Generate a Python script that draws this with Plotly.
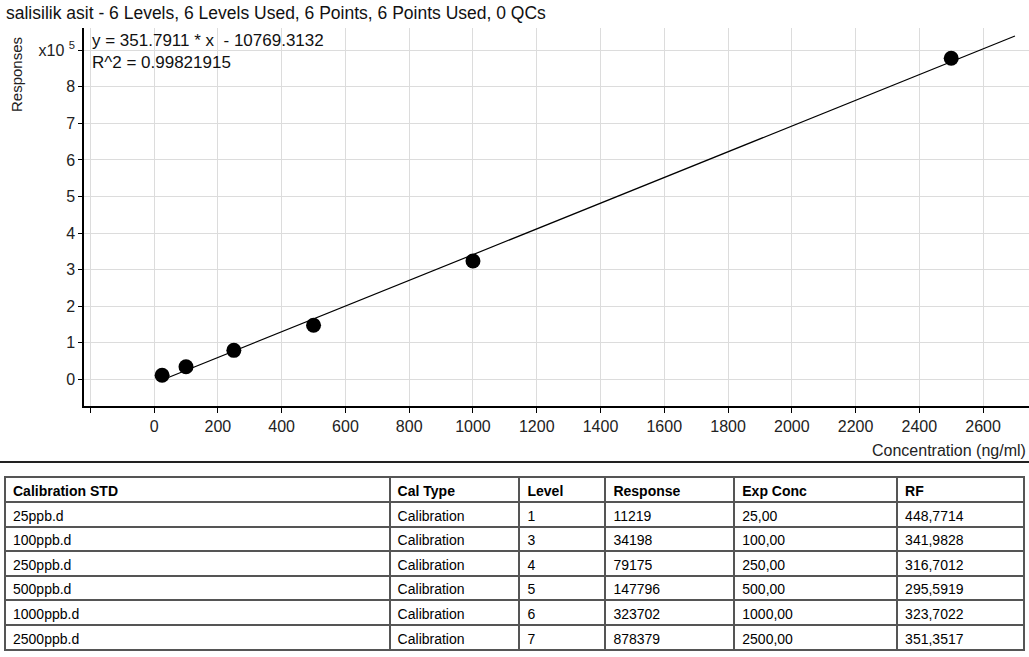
import plotly.graph_objects as go

# ---- data ----
conc = [25, 100, 250, 500, 1000, 2500]
response = [11219, 34198, 79175, 147796, 323702, 878379]
slope = 351.7911
intercept = -10769.3132
r2 = 0.99821915
fit_x = [25, 2700]

x_ticks = [0, 200, 400, 600, 800, 1000, 1200, 1400, 1600, 1800, 2000, 2200, 2400, 2600]
x_ticklabels = [str(v) for v in x_ticks]
x_minor_ticks = [-200]
y_ticks = [0, 1, 2, 3, 4, 5, 6, 7, 8, 9]
y_ticklabels = [str(v) for v in y_ticks[:-1]] + ["x10 <sup>5</sup>"]

tbl_cols = ["Calibration STD", "Cal Type", "Level", "Response", "Exp Conc", "RF"]
tbl_std = ["25ppb.d", "100ppb.d", "250ppb.d", "500ppb.d", "1000ppb.d", "2500ppb.d"]
tbl_type = ["Calibration"] * 6
tbl_level = ["1", "3", "4", "5", "6", "7"]
tbl_resp = ["11219", "34198", "79175", "147796", "323702", "878379"]
tbl_exp = ["25,00", "100,00", "250,00", "500,00", "1000,00", "2500,00"]
tbl_rf = ["448,7714", "341,9828", "316,7012", "295,5919", "323,7022", "351,3517"]

title_text = "salisilik asit - 6 Levels, 6 Levels Used, 6 Points, 6 Points Used, 0 QCs"

W, H = 1029, 657
FONT = "Liberation Sans"

fit_y = [(slope * v + intercept) / 1e5 for v in fit_x]
resp_scaled = [r / 1e5 for r in response]

fig = go.Figure()
fig.add_trace(go.Scatter(x=fit_x, y=fit_y, mode="lines",
                         line=dict(color="black", width=1.2), showlegend=False,
                         hoverinfo="skip"))
fig.add_trace(go.Scatter(x=conc, y=resp_scaled, mode="markers",
                         marker=dict(color="black", size=15), showlegend=False))

widths = [385, 130, 86, 129, 163, 127]
fig.add_trace(go.Table(
    domain=dict(x=[5 / W, 1025 / W], y=[1 - 656 / H, 1 - 477 / H]),
    columnwidth=widths,
    header=dict(values=tbl_cols, align="left",
                fill_color="white", line=dict(color="#555", width=2),
                font=dict(family=FONT, size=14, color="black", weight="bold"), height=25),
    cells=dict(values=[tbl_std, tbl_type, tbl_level, tbl_resp, tbl_exp, tbl_rf],
               align="left", fill_color="white", line=dict(color="#555", width=2),
               font=dict(family=FONT, size=14, color="black"), height=24.6),
))

fig.update_layout(
    width=W, height=H, autosize=False,
    margin=dict(l=0, r=0, t=0, b=0),
    paper_bgcolor="white", plot_bgcolor="white",
    font=dict(family=FONT, size=16, color="#222"),
    xaxis=dict(domain=[84 / W, 1.0], range=[-220, 2744],
               tickvals=x_ticks, ticktext=x_ticklabels,
               minor=dict(tickvals=x_minor_ticks, ticks="outside", ticklen=5,
                          tickcolor="black", showgrid=True, gridcolor="#dcdcdc"),
               showgrid=True, gridcolor="#dcdcdc", gridwidth=1,
               showline=True, linecolor="black", linewidth=1.5,
               ticks="outside", ticklen=5, tickcolor="black",
               tickfont=dict(family=FONT, size=16, color="#222"),
               zeroline=False, fixedrange=True),
    yaxis=dict(domain=[1 - 406 / H, 1 - 28 / H], range=[-0.73, 9.61],
               tickvals=y_ticks, ticktext=y_ticklabels,
               showgrid=True, gridcolor="#dcdcdc", gridwidth=1,
               showline=True, linecolor="black", linewidth=1.5,
               ticks="outside", ticklen=4, tickcolor="black",
               tickfont=dict(family=FONT, size=16, color="#222"),
               zeroline=False, fixedrange=True),
    shapes=[dict(type="line", xref="paper", yref="paper", x0=0, x1=1,
                 y0=1 - 462 / H, y1=1 - 462 / H, line=dict(color="#222", width=2))],
    annotations=[
        dict(text=title_text, xref="paper", yref="paper", x=4 / W, y=1 - 1 / H,
             xanchor="left", yanchor="top", showarrow=False,
             font=dict(family=FONT, size=17.5, color="#111")),
        dict(text="y = %.4f * x  - %.4f<br>R^2 = %.8f" % (slope, -intercept, r2),
             xref="paper", yref="paper", x=90 / W, y=1 - 29 / H,
             xanchor="left", yanchor="top", showarrow=False, align="left",
             font=dict(family=FONT, size=17, color="#111")),
        dict(text="Responses", xref="paper", yref="paper", x=17 / W, y=1 - 75 / H,
             textangle=-90, showarrow=False, xanchor="center", yanchor="middle",
             font=dict(family=FONT, size=15, color="#222")),
        dict(text="Concentration (ng/ml)", xref="paper", yref="paper", x=1028 / W,
             y=1 - 450 / H, xanchor="right", yanchor="middle", showarrow=False,
             font=dict(family=FONT, size=16, color="#222")),
    ],
)

fig.write_html("out.html", config={"displayModeBar": False},
               post_script="document.body.style.margin='0';document.body.style.overflow='hidden';")
